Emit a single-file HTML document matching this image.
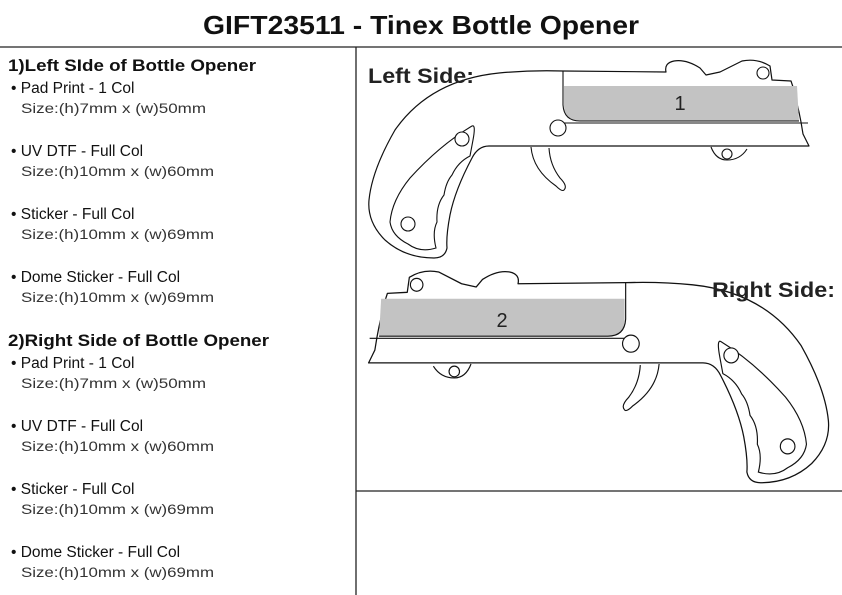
<!DOCTYPE html>
<html><head><meta charset="utf-8"><style>
html,body{margin:0;padding:0;background:#fff;}
svg{display:block;}
text{font-family:"Liberation Sans",Arial,sans-serif;}
.h{font-weight:bold;font-size:16.5px;fill:#111;}
.i{font-size:15.5px;fill:#111;}
.s{font-size:14px;fill:#333;}
</style></head><body>
<svg width="842" height="595" viewBox="0 0 842 595" xmlns="http://www.w3.org/2000/svg">
<text x="421" y="34" text-anchor="middle" font-weight="bold" font-size="26" fill="#111" textLength="436" lengthAdjust="spacingAndGlyphs">GIFT23511 - Tinex Bottle Opener</text>
<line x1="0" y1="47" x2="842" y2="47" stroke="#222" stroke-width="1.3"/>
<line x1="356" y1="47" x2="356" y2="595" stroke="#222" stroke-width="1.3"/>
<line x1="356" y1="491" x2="842" y2="491" stroke="#222" stroke-width="1.3"/>

<text class="h" x="8" y="71" textLength="248" lengthAdjust="spacingAndGlyphs">1)Left SIde of Bottle Opener</text>
<text class="i" x="11" y="93">• Pad Print - 1 Col</text>
<text class="s" x="21" y="113" textLength="185" lengthAdjust="spacingAndGlyphs">Size:(h)7mm x (w)50mm</text>
<text class="i" x="11" y="156">• UV DTF - Full Col</text>
<text class="s" x="21" y="176" textLength="193" lengthAdjust="spacingAndGlyphs">Size:(h)10mm x (w)60mm</text>
<text class="i" x="11" y="219">• Sticker - Full Col</text>
<text class="s" x="21" y="239" textLength="193" lengthAdjust="spacingAndGlyphs">Size:(h)10mm x (w)69mm</text>
<text class="i" x="11" y="282">• Dome Sticker - Full Col</text>
<text class="s" x="21" y="302" textLength="193" lengthAdjust="spacingAndGlyphs">Size:(h)10mm x (w)69mm</text>

<text class="h" x="8" y="346" textLength="261" lengthAdjust="spacingAndGlyphs">2)Right Side of Bottle Opener</text>
<text class="i" x="11" y="368">• Pad Print - 1 Col</text>
<text class="s" x="21" y="388" textLength="185" lengthAdjust="spacingAndGlyphs">Size:(h)7mm x (w)50mm</text>
<text class="i" x="11" y="431">• UV DTF - Full Col</text>
<text class="s" x="21" y="451" textLength="193" lengthAdjust="spacingAndGlyphs">Size:(h)10mm x (w)60mm</text>
<text class="i" x="11" y="494">• Sticker - Full Col</text>
<text class="s" x="21" y="514" textLength="193" lengthAdjust="spacingAndGlyphs">Size:(h)10mm x (w)69mm</text>
<text class="i" x="11" y="557">• Dome Sticker - Full Col</text>
<text class="s" x="21" y="577" textLength="193" lengthAdjust="spacingAndGlyphs">Size:(h)10mm x (w)69mm</text>

<defs>
<g id="gun">
  <!-- main outline -->
  <path d="M563,71 L666,72 Q664,63 674,61 Q686,59 700,68 L706,75 L720,72 L742,61 Q757,58 770,66 L772,80 L791,81 L793,87 L799,112 L801,122 L803,134 L806,140 L809,146 L489,146 Q478,146 472,158 Q455,190 450,215 Q446,236 447,248 Q445,258 434,258 Q405,258 385,240 Q367,222 369,200 Q372,170 395,130 Q430,80 499,73 Q530,70 563,71 Z" fill="#fff" stroke="#111" stroke-width="1.2" stroke-linejoin="round"/>
  <!-- shaded area -->
  <path d="M564,86 L797,86 L799,121 L580,121 Q564,121 564,105 Z" fill="#c3c3c3"/>
  <path d="M563,71 L563,105 Q564,121 580,121 L799,121" fill="none" stroke="#111" stroke-width="1.1"/>
  <line x1="564" y1="123" x2="808" y2="123" stroke="#111" stroke-width="1.1"/>
  <!-- grip inner panel -->
  <path d="M472,126 Q476,124 473,140 L470,156 Q458,162 452,175 Q446,182 444,195 Q436,205 437,222 Q432,232 436,248 Q420,253 408,244 Q392,236 390,222 Q392,200 410,178 Q440,145 472,126 Z" fill="#fff" stroke="#111" stroke-width="1.1"/>
  <circle cx="462" cy="139" r="7" fill="#fff" stroke="#111" stroke-width="1.1"/>
  <circle cx="408" cy="224" r="7" fill="#fff" stroke="#111" stroke-width="1.1"/>
  <circle cx="558" cy="128" r="8" fill="#fff" stroke="#111" stroke-width="1.1"/>
  <!-- trigger -->
  <path d="M531,147 Q533,170 556,186 Q562,192 564,190 Q568,186 560,178 Q550,165 549,148" fill="#fff" stroke="#111" stroke-width="1.1"/>
  <!-- lug -->
  <path d="M711,147 Q716,160 727,160 Q740,160 747,149" fill="#fff" stroke="#111" stroke-width="1.1"/>
  <circle cx="727" cy="154" r="5" fill="#fff" stroke="#111" stroke-width="1.1"/>
  <circle cx="763" cy="73" r="6" fill="#fff" stroke="#111" stroke-width="1.1"/>
</g>
</defs>

<use href="#gun"/>
<text x="680" y="110" text-anchor="middle" font-size="20" fill="#222">1</text>
<text x="368" y="83" font-weight="bold" font-size="21" fill="#222" textLength="106" lengthAdjust="spacingAndGlyphs">Left Side:</text>

<g transform="translate(1214,206.7) scale(-1.045,1.07)"><use href="#gun"/></g>
<text x="502" y="327" text-anchor="middle" font-size="20" fill="#222">2</text>
<text x="712" y="297" font-weight="bold" font-size="21" fill="#222" textLength="123" lengthAdjust="spacingAndGlyphs">Right Side:</text>
</svg>
</body></html>
